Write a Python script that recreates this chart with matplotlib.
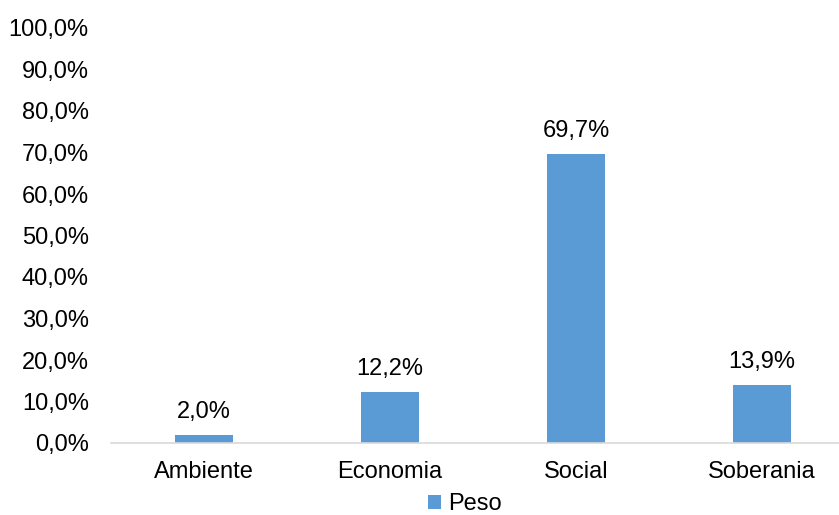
import numpy as np
import matplotlib.pyplot as plt
from matplotlib.ticker import FuncFormatter

plt.rcParams['font.family'] = ['Liberation Sans', 'DejaVu Sans']

categorias = ['Ambiente', 'Economia', 'Social', 'Soberania']
peso = [2.0, 12.2, 69.7, 13.9]
yticks = np.arange(0, 101, 10)

fs = 17

fig = plt.figure(figsize=(8.39, 5.15), dpi=100)
# axis runs off the right edge like the original
ax = fig.add_axes([111 / 839, 1 - 443 / 515, 744 / 839, 415 / 515])

x = np.arange(len(categorias))
bars = ax.bar(x, peso, width=0.31, color='#5B9BD5', label='Peso', zorder=2)

for xi, v in zip(x, peso):
    ax.text(xi, v + 2.9, f'{v:.1f}%'.replace('.', ','), ha='center', va='bottom', fontsize=fs)

ax.set_xlim(-0.5, len(categorias) - 0.5)
ax.set_ylim(0, 100)
ax.set_yticks(yticks)
ax.yaxis.set_major_formatter(FuncFormatter(lambda v, p: f'{v:.1f}%'.replace('.', ',')))
ax.set_xticks(x)
ax.set_xticklabels(categorias)
ax.tick_params(axis='both', length=0, labelsize=fs)
ax.tick_params(axis='y', pad=16)
ax.tick_params(axis='x', pad=13)

for s in ['top', 'right', 'left']:
    ax.spines[s].set_visible(False)
ax.spines['bottom'].set_color('#D9D9D9')
ax.spines['bottom'].set_linewidth(1.2)

fig.legend(handles=[bars], labels=['Peso'], loc='center', bbox_to_anchor=(465 / 839, 1 - 504 / 515),
           frameon=False, fontsize=fs, handlelength=0.55, handleheight=0.55, handletextpad=0.3,
           borderpad=0)

fig.savefig('out.png', dpi=100)
